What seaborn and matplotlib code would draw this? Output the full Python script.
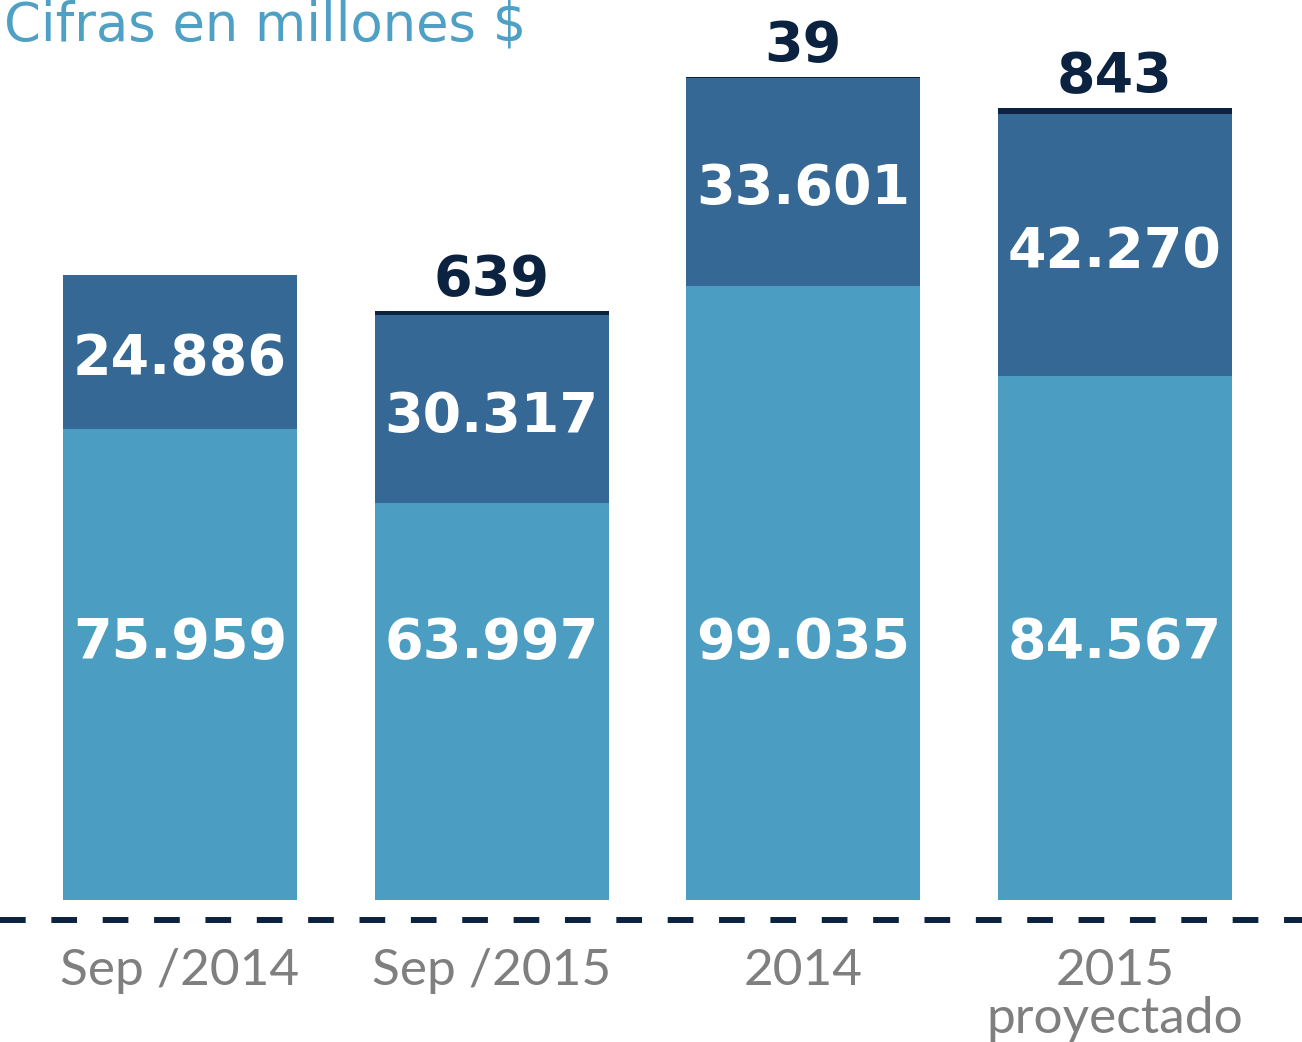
import numpy as np
import pandas as pd
import matplotlib
matplotlib.use("Agg")
import matplotlib.pyplot as plt
import seaborn as sns

categories = ["Sep /2014", "Sep /2015", "2014", "2015\nproyectado"]
base_vals = [75959, 63997, 99035, 84567]
mid_vals = [24886, 30317, 33601, 42270]
top_vals = [0, 639, 39, 843]
base_labels = ["75.959", "63.997", "99.035", "84.567"]
mid_labels = ["24.886", "30.317", "33.601", "42.270"]
top_labels = ["", "639", "39", "843"]

LIGHT = "#4C9DC2"
MID = "#356894"
DARK = "#0B2340"

sns.set_theme(style="white")
plt.rcParams["font.family"] = ["DejaVu Sans"]

fig = plt.figure(figsize=(13.02, 10.42), dpi=100)
ax = fig.add_axes([0, 122 / 1042, 1, 920 / 1042])

df = pd.DataFrame({
    "cat": categories,
    "base": base_vals,
    "mid": mid_vals,
    "top": top_vals,
})
df["s2"] = df["base"] + df["mid"]
df["s3"] = df["s2"] + df["top"]

sns.barplot(data=df, x="cat", y="s3", color=DARK, saturation=1, width=0.75, ax=ax)
sns.barplot(data=df, x="cat", y="s2", color=MID, saturation=1, width=0.75, ax=ax)
sns.barplot(data=df, x="cat", y="base", color=LIGHT, saturation=1, width=0.75, ax=ax)
for p in ax.patches:
    p.set_edgecolor("none")

ax.set_xlim(-0.5775, 3.6)
ax.set_ylim(-3226, 145161)

for i in range(len(categories)):
    ax.text(i, 41500, base_labels[i], ha="center", va="center",
            color="white", fontsize=40, fontweight="bold")
    ax.text(i, df["base"][i] + df["mid"][i] / 2 - 1200, mid_labels[i], ha="center", va="center",
            color="white", fontsize=40, fontweight="bold")
    if top_labels[i]:
        ax.annotate(top_labels[i], (i, df["s3"][i]), xytext=(0, 3), textcoords="offset points",
                    ha="center", va="bottom", color=DARK, fontsize=40, fontweight="bold")

for s in ["top", "right", "left"]:
    ax.spines[s].set_visible(False)
ax.spines["bottom"].set_color(DARK)
ax.spines["bottom"].set_linewidth(4.3)
ax.spines["bottom"].set_linestyle((0, (4.3, 4.3)))
ax.spines["bottom"].set_capstyle("butt")

ax.set_yticks([])
ax.set_xlabel("")
ax.set_ylabel("")
ax.set_xticks(range(len(categories)))
ax.set_xticklabels(categories, fontsize=37, color="#7F7F7F", family=["Lato", "DejaVu Sans"],
                   linespacing=1.05)
ax.tick_params(axis="x", length=0, pad=20)

fig.text(4 / 1302, 1 - 40 / 1042, "Cifras en millones $", ha="left", va="baseline",
         color="#4FA0C5", fontsize=38, fontweight=300, family=["DejaVu Sans"])

fig.savefig("out.png", dpi=100)
